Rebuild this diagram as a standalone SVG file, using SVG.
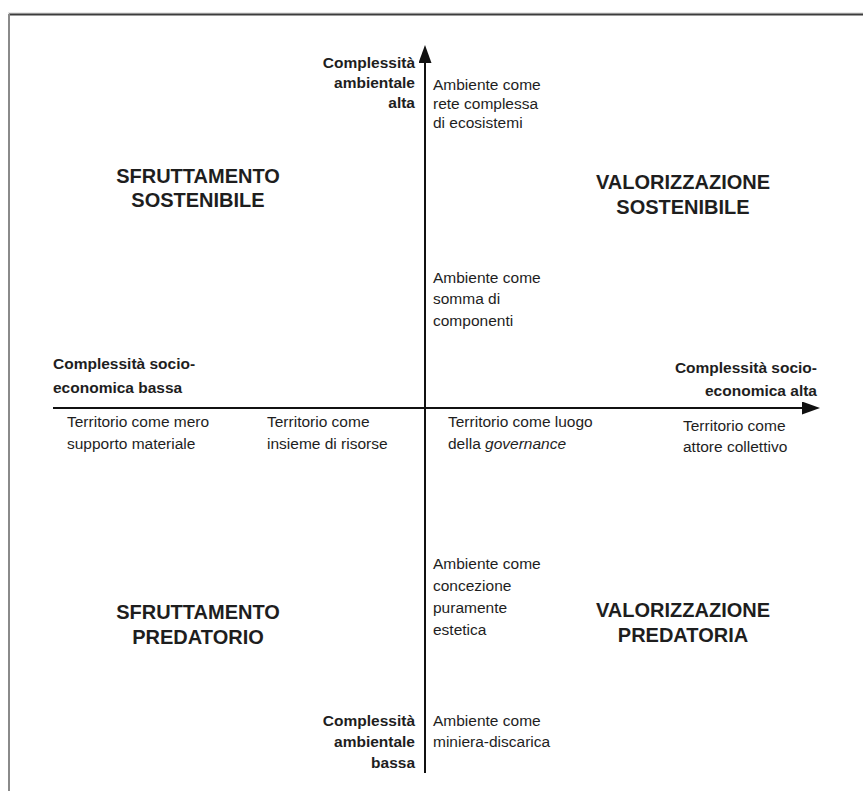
<svg xmlns="http://www.w3.org/2000/svg" width="863" height="791" viewBox="0 0 863 791">
<style>
text{font-family:"Liberation Sans",Arial,sans-serif;fill:#1e1e1e}
.r{font-size:15.5px}
.b{font-size:15.5px;font-weight:bold}
.t{font-size:20px;font-weight:bold;text-anchor:middle}
.e{text-anchor:end}
.axis{stroke:#111;stroke-width:2;fill:none}
</style>
<defs>
<marker id="arr" markerUnits="userSpaceOnUse" markerWidth="20" markerHeight="14" refX="6" refY="6.5" orient="auto">
<path d="M0,0 L18,6.5 L0,13 z" fill="#111"/>
</marker>
</defs>
<rect width="863" height="791" fill="#fff"/>
<g id="frame">
<line x1="8" y1="13" x2="863" y2="13" stroke="#d0d0d0" stroke-width="1"/>
<line x1="9" y1="14.5" x2="863" y2="14.5" stroke="#3c3c3c" stroke-width="2"/>
<line x1="9" y1="14" x2="9" y2="791" stroke="#8a8a8a" stroke-width="2"/>
</g>
<g id="connectors">
<line class="axis" x1="425" y1="773" x2="425" y2="57" marker-end="url(#arr)"/>
<line class="axis" x1="53" y1="408" x2="808" y2="408" marker-end="url(#arr)"/>
</g>
<g id="env-high-label">
<text class="b e" x="415" y="68">Complessità</text>
<text class="b e" x="415" y="88">ambientale</text>
<text class="b e" x="415" y="108">alta</text>
</g>
<g id="env-network">
<text class="r" x="433" y="90">Ambiente come</text>
<text class="r" x="433" y="109">rete complessa</text>
<text class="r" x="433" y="128">di ecosistemi</text>
</g>
<g id="sfruttamento-sostenibile">
<text class="t" x="198" y="183">SFRUTTAMENTO</text>
<text class="t" x="198" y="207">SOSTENIBILE</text>
</g>
<g id="valorizzazione-sostenibile">
<text class="t" x="683" y="189">VALORIZZAZIONE</text>
<text class="t" x="683" y="214">SOSTENIBILE</text>
</g>
<g id="env-sum">
<text class="r" x="433" y="283">Ambiente come</text>
<text class="r" x="433" y="304">somma di</text>
<text class="r" x="433" y="326">componenti</text>
</g>
<g id="socio-low-label">
<text class="b" x="53" y="369">Complessità socio-</text>
<text class="b" x="53" y="393">economica bassa</text>
</g>
<g id="socio-high-label">
<text class="b e" x="817" y="373">Complessità socio-</text>
<text class="b e" x="817" y="396">economica alta</text>
</g>
<g id="terr-support">
<text class="r" x="67" y="427">Territorio come mero</text>
<text class="r" x="67" y="449">supporto materiale</text>
</g>
<g id="terr-resources">
<text class="r" x="267" y="427">Territorio come</text>
<text class="r" x="267" y="449">insieme di risorse</text>
</g>
<g id="terr-governance">
<text class="r" x="448" y="427">Territorio come luogo</text>
<text class="r" x="448" y="449">della <tspan font-style="italic">governance</tspan></text>
</g>
<g id="terr-actor">
<text class="r" x="683" y="431">Territorio come</text>
<text class="r" x="683" y="452">attore collettivo</text>
</g>
<g id="env-aesthetic">
<text class="r" x="433" y="569">Ambiente come</text>
<text class="r" x="433" y="591">concezione</text>
<text class="r" x="433" y="613">puramente</text>
<text class="r" x="433" y="635">estetica</text>
</g>
<g id="sfruttamento-predatorio">
<text class="t" x="198" y="619">SFRUTTAMENTO</text>
<text class="t" x="198" y="644">PREDATORIO</text>
</g>
<g id="valorizzazione-predatoria">
<text class="t" x="683" y="617">VALORIZZAZIONE</text>
<text class="t" x="683" y="642">PREDATORIA</text>
</g>
<g id="env-low-label">
<text class="b e" x="415" y="726">Complessità</text>
<text class="b e" x="415" y="747">ambientale</text>
<text class="b e" x="415" y="768">bassa</text>
</g>
<g id="env-dump">
<text class="r" x="433" y="726">Ambiente come</text>
<text class="r" x="433" y="747">miniera-discarica</text>
</g>
</svg>
